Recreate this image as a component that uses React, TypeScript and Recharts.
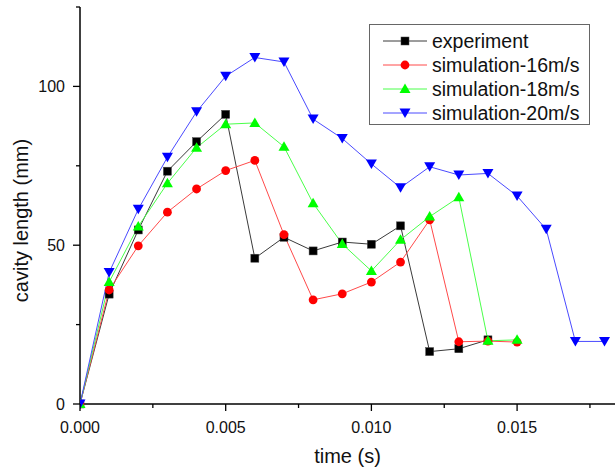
import React from 'react';
import { LineChart, Line, XAxis, YAxis, Legend } from 'recharts';

const times = [0, 0.001, 0.002, 0.003, 0.004, 0.005, 0.006, 0.007, 0.008, 0.009, 0.01, 0.011, 0.012, 0.013, 0.014, 0.015, 0.016, 0.017, 0.018];
const experiment = [0, 34.6, 54.8, 73.3, 82.6, 91.2, 45.9, 52.5, 48.2, 51.0, 50.3, 56.1, 16.5, 17.4, 20.2];
const sim16 = [0, 35.9, 49.8, 60.4, 67.7, 73.5, 76.7, 53.3, 32.8, 34.7, 38.4, 44.7, 58.0, 19.6, 19.8, 19.5];
const sim18 = [0, 38.4, 55.9, 69.5, 80.7, 88.1, 88.5, 81.0, 63.2, 50.4, 41.9, 51.7, 59.0, 65.1, 19.9, 20.2];
const sim20 = [0, 41.4, 61.3, 77.7, 92.0, 103.2, 109.1, 107.7, 89.7, 83.6, 75.6, 68.1, 74.7, 72.1, 72.6, 65.5, 55.0, 19.7, 19.7];

const seriesNames = ['experiment', 'simulation-16m/s', 'simulation-18m/s', 'simulation-20m/s'];
const seriesKeys = ['experiment', 'sim16', 'sim18', 'sim20'];
const seriesColors = ['#000000', '#ff0000', '#00ff00', '#0000ff'];
const lineColors = ['#3a3a3a', '#ff4a4a', '#4aff4a', '#4a4aff'];
const seriesShapes = ['square', 'circle', 'up', 'down'];

const xTicks = [0, 0.0025, 0.005, 0.0075, 0.01, 0.0125, 0.015, 0.0175];
const yTicks = [0, 25, 50, 75, 100, 125];

const data = times.map((t, i) => ({
  t,
  experiment: experiment[i],
  sim16: sim16[i],
  sim18: sim18[i],
  sim20: sim20[i],
}));

const FONT = "'Liberation Sans', Arial, sans-serif";

function Marker({ shape, color, cx, cy }: { shape: string; color: string; cx: number; cy: number }) {
  if (shape === 'square') {
    return <rect x={cx - 4} y={cy - 4} width={8} height={8} fill={color} stroke="#444" strokeWidth={0.5} />;
  }
  if (shape === 'circle') {
    return <circle cx={cx} cy={cy} r={4.4} fill={color} />;
  }
  if (shape === 'up') {
    return <polygon points={`${cx},${cy - 5.5} ${cx - 5.5},${cy + 4} ${cx + 5.5},${cy + 4}`} fill={color} />;
  }
  return <polygon points={`${cx - 5.5},${cy - 4.5} ${cx + 5.5},${cy - 4.5} ${cx},${cy + 5}`} fill={color} />;
}

const makeDot = (shape: string, color: string) => (props: any) => {
  const { cx, cy, index } = props;
  if (cx == null || cy == null || Number.isNaN(cx) || Number.isNaN(cy)) return <g key={`d-${index}`} />;
  return (
    <g key={`d-${index}`}>
      <Marker shape={shape} color={color} cx={cx} cy={cy} />
    </g>
  );
};

const XTick = (props: any) => {
  const { x, y, payload } = props;
  const v = payload.value as number;
  const major = Math.abs(v / 0.005 - Math.round(v / 0.005)) < 1e-6;
  return (
    <g>
      <line x1={x} x2={x} y1={y} y2={y + (major ? 7 : 4)} stroke="#000" strokeWidth={1.3} />
      {major && (
        <text x={x} y={y + 29} textAnchor="middle" fontSize={16} fontFamily={FONT} fill="#111">
          {v.toFixed(3)}
        </text>
      )}
    </g>
  );
};

const YTick = (props: any) => {
  const { x, y, payload } = props;
  const v = payload.value as number;
  const major = v % 50 === 0;
  return (
    <g>
      <line x1={x} x2={x - (major ? 7 : 4)} y1={y} y2={y} stroke="#000" strokeWidth={1.3} />
      {major && (
        <text x={x - 15} y={y} dy="0.36em" textAnchor="end" fontSize={16} fontFamily={FONT} fill="#111">
          {v}
        </text>
      )}
    </g>
  );
};

const LegendBox = () => (
  <svg width={221} height={101} style={{ display: 'block' }}>
    <rect x={0.5} y={0.5} width={220} height={100} fill="#fff" stroke="#666" strokeWidth={1} />
    {seriesNames.map((name, i) => {
      const cy = 17 + i * 24;
      return (
        <g key={name}>
          <line x1={14} x2={58} y1={cy} y2={cy} stroke={lineColors[i]} strokeWidth={1} />
          <Marker shape={seriesShapes[i]} color={seriesColors[i]} cx={36} cy={cy} />
          <text x={63} y={cy + 7} fontSize={19.5} fontFamily={FONT} fill="#111">
            {name}
          </text>
        </g>
      );
    })}
  </svg>
);

export default function App() {
  return (
    <div style={{ position: 'absolute', left: 0, top: 0, width: 615, height: 472, background: '#fff' }}>
      <LineChart width={615} height={472} data={data} margin={{ top: 7, right: 0, bottom: 0, left: 0 }}>
        <XAxis
          dataKey="t"
          type="number"
          domain={[0, 0.01836]}
          ticks={xTicks}
          interval={0}
          height={68}
          tickSize={0}
          tickMargin={0}
          tickLine={false}
          tick={<XTick />}
          axisLine={{ stroke: '#000', strokeWidth: 1.5 }}
          allowDataOverflow
          label={{ value: 'time (s)', position: 'insideBottom', offset: 9, fontSize: 20, fontFamily: FONT, fill: '#111' }}
        />
        <YAxis
          type="number"
          domain={[0, 125]}
          ticks={yTicks}
          interval={0}
          width={80}
          tickSize={0}
          tickMargin={0}
          tickLine={false}
          tick={<YTick />}
          axisLine={{ stroke: '#000', strokeWidth: 1.5 }}
          label={{
            content: (p: any) => {
              const vb = p.viewBox || { x: 0, y: 7, width: 80, height: 397 };
              const cx = vb.x + 28;
              const cy = vb.y + vb.height / 2 + 15;
              return (
                <text
                  x={cx}
                  y={cy}
                  transform={`rotate(-90, ${cx}, ${cy})`}
                  textAnchor="middle"
                  fontSize={20}
                  fontFamily={FONT}
                  fill="#111"
                >
                  cavity length (mm)
                </text>
              );
            },
          }}
        />
        <Legend
          layout="vertical"
          align="center"
          verticalAlign="middle"
          content={() => <LegendBox />}
          wrapperStyle={{ position: 'absolute', left: 369, top: 24, width: 221, height: 101, bottom: 'auto', right: 'auto' }}
        />
        {seriesKeys.map((k, i) => (
          <Line
            key={k}
            type="linear"
            dataKey={k}
            name={seriesNames[i]}
            stroke={lineColors[i]}
            strokeWidth={1}
            dot={makeDot(seriesShapes[i], seriesColors[i])}
            activeDot={false}
            isAnimationActive={false}
            connectNulls={false}
          />
        ))}
      </LineChart>
    </div>
  );
}
